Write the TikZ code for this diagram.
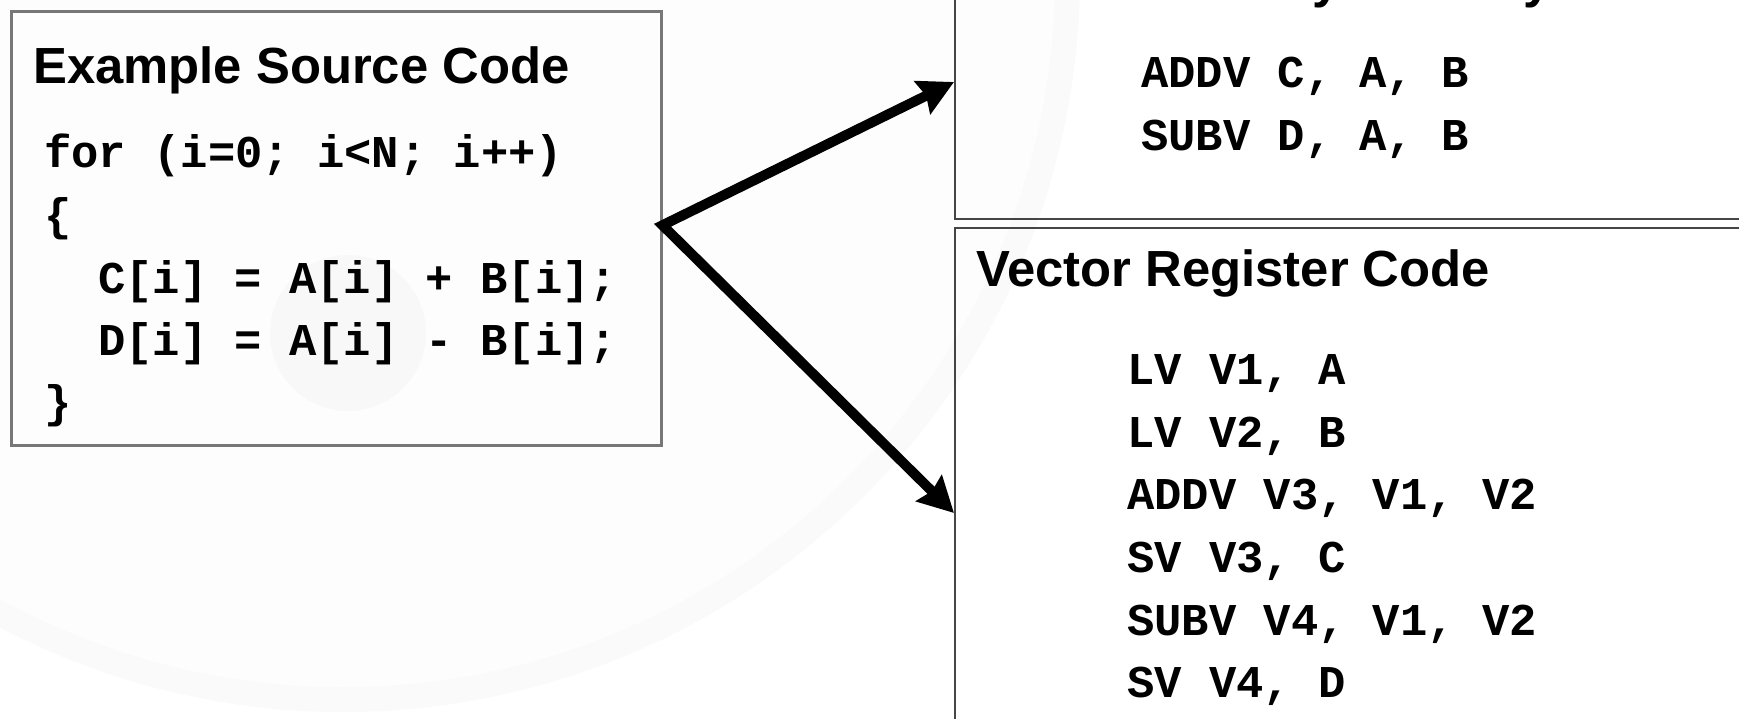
\documentclass[tikz,border=0pt]{standalone}
\usepackage{fontspec}
\setmainfont{Liberation Sans}
\newfontfamily\codefont{Liberation Mono}
\usetikzlibrary{arrows.meta}
\definecolor{boxgray}{RGB}{120,120,120}
\definecolor{boxdark}{RGB}{70,70,70}
\begin{document}
\begin{tikzpicture}[x=1pt,y=-1pt,
  box/.style={rectangle, draw=boxgray, line width=2.5pt, fill=white, inner sep=0pt, anchor=north west},
  title/.style={anchor=base west, inner sep=0pt, font=\fontsize{50.8}{60}\selectfont\bfseries},
  code/.style={anchor=base west, inner sep=0pt, font=\codefont\fontsize{45.5}{54}\selectfont\bfseries},
  arr/.style={line width=10pt, line join=miter, {Stealth[length=35pt,width=36pt,inset=4pt]}-{Stealth[length=35pt,width=36pt,inset=4pt]}},
  mark ring/.style={black, fill opacity=0.018, draw=none}
]
\useasboundingbox (0,0) rectangle (1739,718);
\clip (0,0) rectangle (1739,718);
\fill[white] (0,0) rectangle (1739,718);

% boxes
\node[box, draw=boxdark, line width=2pt, minimum width=820pt, minimum height=274pt] (mm) at (954,-56) {};
\node[box, draw=boxdark, line width=2pt, minimum width=820pt, minimum height=570pt] (vr) at (954,227) {};
\node[box, minimum width=650pt, minimum height=434pt] (src) at (10,10) {};

% source box text
\node[title] (srct) at (33,83) {Example Source Code};
\node[code] (s1) at (44,167) {for (i=0; i<N; i++)};
\node[code] (s2) at (44,230) {\{};
\node[code] (s3) at (98,293) {C[i] = A[i] + B[i];};
\node[code] (s4) at (98,355) {D[i] = A[i] - B[i];};
\node[code] (s5) at (44,417) {\}};

% memory-memory box text (cut off at the top edge, as in the reference)
\node[title] (mmt) at (976,-3) {Vector Memory-Memory Code};
\node[code] (m1) at (1141,87) {ADDV C, A, B};
\node[code] (m2) at (1141,150) {SUBV D, A, B};

% vector register box text
\node[title] (vrt) at (976,286) {Vector Register Code};
\node[code] (v1) at (1127,384) {LV V1, A};
\node[code] (v2) at (1127,447) {LV V2, B};
\node[code] (v3) at (1127,509) {ADDV V3, V1, V2};
\node[code] (v4) at (1127,572) {SV V3, C};
\node[code] (v5) at (1127,635) {SUBV V4, V1, V2};
\node[code] (v6) at (1127,697) {SV V4, D};

% connectors
\draw[arr] (mm.west) -- ([yshift=3pt]src.east) -- (vr.west);

% faint background watermark
\fill[mark ring, even odd rule] (343,-25) circle[radius=737] (343,-25) circle[radius=712];
\fill[black, fill opacity=0.008] (343,-25) circle[radius=712];
\fill[mark ring] (348,333) circle[radius=78];
\end{tikzpicture}
\end{document}
